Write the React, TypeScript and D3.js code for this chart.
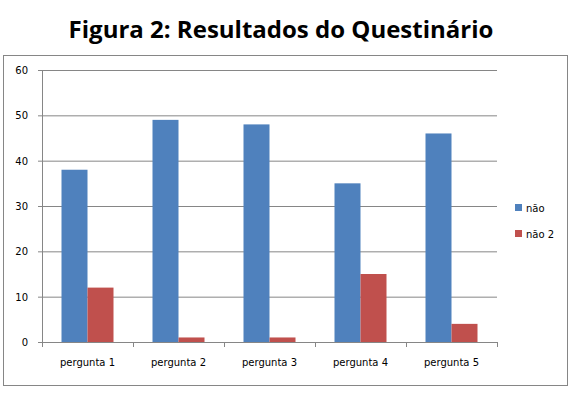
import * as d3 from "d3";

const categories = ["pergunta 1", "pergunta 2", "pergunta 3", "pergunta 4", "pergunta 5"];
const seriesNames = ["não", "não 2"];
const naoValues = [38, 49, 48, 35, 46];
const nao2Values = [12, 1, 1, 15, 4];
const yTicks = [0, 10, 20, 30, 40, 50, 60];
const colors = ["#4F81BD", "#C0504D"];

const W = 577;
const H = 397;
const plot = { left: 42, right: 497, top: 70, bottom: 342 };

export default function App() {
  const x = d3.scaleBand<string>().domain(categories).range([plot.left, plot.right]).paddingInner(0).paddingOuter(0);
  // inner band: two bars of ~26px in a 91px slot
  const inner = d3.scaleBand<string>().domain(seriesNames).range([0, x.bandwidth()]).paddingInner(0).paddingOuter(0.75);
  const y = d3.scaleLinear().domain([0, 60]).range([plot.bottom, plot.top]);
  const series = [naoValues, nao2Values];
  const font = "'DejaVu Sans', Verdana, sans-serif";

  return (
    <svg width={W} height={H} style={{ position: "absolute", left: 0, top: 0, background: "#fff" }}>
      <text x={281} y={38} textAnchor="middle" fontFamily="'Open Sans', sans-serif" fontWeight="bold" fontSize={24} fill="#000">
        Figura 2: Resultados do Questinário
      </text>
      <rect x={3.5} y={55.5} width={564} height={330} fill="#fff" stroke="#868686" />
      {yTicks.map((t) => (
        <g key={t}>
          <line x1={plot.left} x2={plot.right} y1={y(t) + 0.5} y2={y(t) + 0.5} stroke="#868686" />
          <line x1={plot.left - 4} x2={plot.left} y1={y(t) + 0.5} y2={y(t) + 0.5} stroke="#868686" />
          <text x={28} y={y(t) + 4} textAnchor="end" fontFamily={font} fontSize={10} fill="#000">
            {t}
          </text>
        </g>
      ))}
      <line x1={plot.left + 0.5} x2={plot.left + 0.5} y1={plot.top} y2={plot.bottom} stroke="#868686" />
      {categories.map((c, i) => (
        <g key={c}>
          {series.map((vals, s) => (
            <rect
              key={s}
              x={(x(c) as number) + (inner(seriesNames[s]) as number)}
              y={y(vals[i])}
              width={inner.bandwidth()}
              height={plot.bottom - y(vals[i])}
              fill={colors[s]}
            />
          ))}
          <text x={(x(c) as number) + x.bandwidth() / 2} y={366} textAnchor="middle" fontFamily={font} fontSize={10} fill="#000">
            {c}
          </text>
        </g>
      ))}
      {[...categories.map((c) => x(c) as number), plot.right].map((tx, i) => (
        <line key={i} x1={tx + 0.5} x2={tx + 0.5} y1={plot.bottom} y2={plot.bottom + 5} stroke="#868686" />
      ))}
      {seriesNames.map((n, i) => (
        <g key={n} transform={`translate(515, ${204 + i * 26})`}>
          <rect x={0} y={0} width={7} height={7} fill={colors[i]} />
          <text x={11} y={8} fontFamily={font} fontSize={10} fill="#000">
            {n}
          </text>
        </g>
      ))}
    </svg>
  );
}
